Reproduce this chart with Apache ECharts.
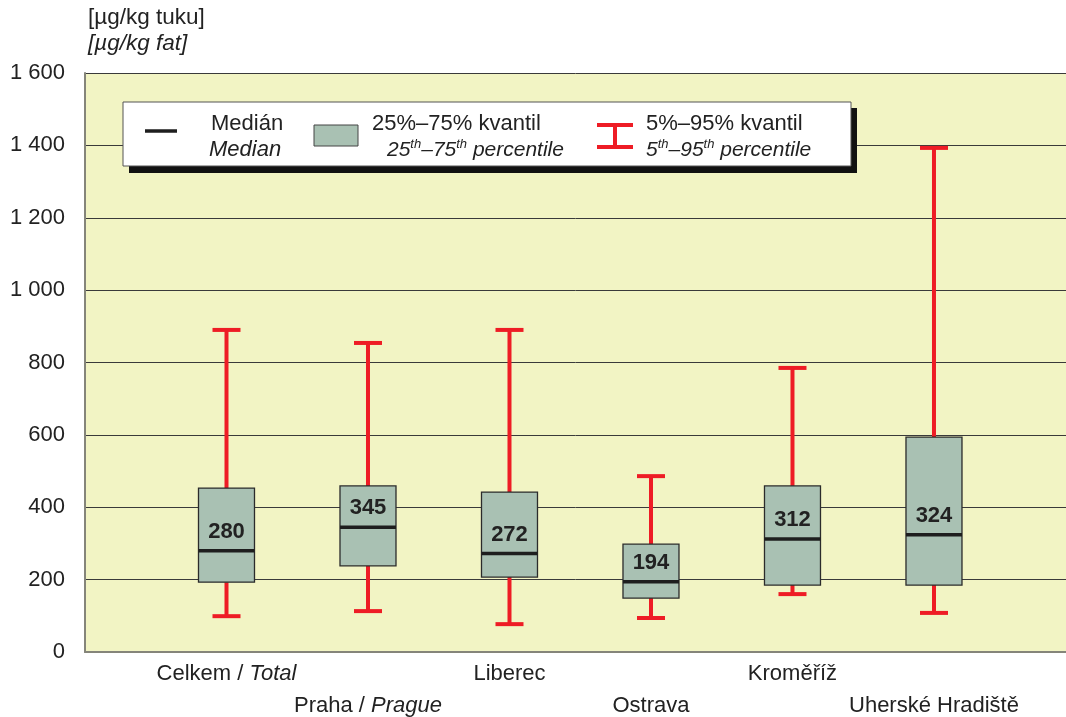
<!DOCTYPE html>
<html><head><meta charset="utf-8">
<script src="https://cdn.jsdelivr.net/npm/echarts@6/dist/echarts.min.js"></script>
<style>html,body{margin:0;padding:0;background:#fff}#c{width:1066px;height:717px}</style>
</head><body><div id="c"></div>
<script>
// ---- data ----
const categories = ['Celkem / Total', 'Praha / Prague', 'Liberec', 'Ostrava', 'Kroměříž', 'Uherské Hradiště'];
const italicPart = ['Total', 'Prague', '', '', '', ''];
const p5 = [99, 113, 77, 94, 160, 108];
const q1 = [193, 238, 207, 149, 185, 185];
const median = [280, 345, 272, 194, 312, 324];
const q3 = [453, 459, 442, 298, 459, 594];
const p95 = [890, 854, 890, 486, 785, 1393];
const yTicks = [0, 200, 400, 600, 800, 1000, 1200, 1400, 1600];

const FONT = '"Liberation Sans", Arial, sans-serif';
const FS = 22;
const RED = '#EE1C25';
const BOXFILL = '#A9C1B3';

const seriesData = categories.map((c, i) => [i + 1, p5[i], q1[i], median[i], q3[i], p95[i]]);

function renderItem(params, api) {
  const x = api.value(0);
  const pLow = api.coord([x, api.value(1)]);
  const pQ1 = api.coord([x, api.value(2)]);
  const pMed = api.coord([x, api.value(3)]);
  const pQ3 = api.coord([x, api.value(4)]);
  const pHigh = api.coord([x, api.value(5)]);
  const cx = pMed[0];
  const bw = 56, cw = 28;
  const redStyle = {stroke: RED, lineWidth: 4};
  return {
    type: 'group',
    children: [
      {type: 'line', shape: {x1: cx, y1: pQ3[1], x2: cx, y2: pHigh[1]}, style: redStyle},
      {type: 'line', shape: {x1: cx, y1: pQ1[1], x2: cx, y2: pLow[1]}, style: redStyle},
      {type: 'line', shape: {x1: cx - cw / 2, y1: pHigh[1], x2: cx + cw / 2, y2: pHigh[1]}, style: redStyle},
      {type: 'line', shape: {x1: cx - cw / 2, y1: pLow[1], x2: cx + cw / 2, y2: pLow[1]}, style: redStyle},
      {type: 'rect', shape: {x: cx - bw / 2, y: pQ3[1], width: bw, height: pQ1[1] - pQ3[1]},
        style: {fill: BOXFILL, stroke: '#2b2b2b', lineWidth: 1.3}},
      {type: 'line', shape: {x1: cx - bw / 2, y1: pMed[1], x2: cx + bw / 2, y2: pMed[1]},
        style: {stroke: '#1e1e1e', lineWidth: 3.5}},
      {type: 'text', style: {text: String(api.value(3)), x: cx, y: pMed[1] - 8,
        align: 'center', verticalAlign: 'bottom', fontFamily: FONT, fontWeight: 'bold',
        fontSize: 22, fill: '#222'}}
    ]
  };
}

const chart = echarts.init(document.getElementById('c'));
chart.setOption({
  animation: false,
  backgroundColor: '#ffffff',
  grid: {left: 85, right: 0, top: 73, bottom: 65, show: true, backgroundColor: '#F2F4C4', borderWidth: 0,
    containLabel: false, outerBoundsMode: 'none'},
  xAxis: {
    type: 'value', min: 0, max: 6.933, interval: 1,
    splitLine: {show: false},
    axisTick: {show: false},
    axisLine: {show: true, lineStyle: {color: '#85857a', width: 2}},
    axisLabel: {
      margin: 6, lineHeight: 32, fontFamily: FONT, fontSize: FS, color: '#222',
      showMaxLabel: false, showMinLabel: false,
      formatter: function (v) {
        const i = Math.round(v) - 1;
        if (Math.abs(v - Math.round(v)) > 1e-6 || i < 0 || i >= categories.length) return '';
        const it = italicPart[i];
        let s;
        if (it) {
          const base = categories[i].slice(0, categories[i].length - it.length);
          s = '{n|' + base + '}{i|' + it + '}';
        } else {
          s = '{n|' + categories[i] + '}';
        }
        return i % 2 === 1 ? '{e| }\n' + s : s;
      },
      rich: {
        n: {fontFamily: FONT, fontSize: FS, color: '#222', lineHeight: 32},
        i: {fontFamily: FONT, fontSize: FS, color: '#222', fontStyle: 'italic', lineHeight: 32},
        e: {fontSize: 10, lineHeight: 32}
      }
    }
  },
  yAxis: {
    type: 'value', min: 0, max: 1600, interval: 200,
    name: '{a|[µg/kg tuku]}\n{b|[µg/kg fat]}',
    nameLocation: 'end', nameGap: 16,
    nameTextStyle: {align: 'left', verticalAlign: 'bottom', padding: [0, 0, 0, 3],
      rich: {
        a: {fontFamily: FONT, fontSize: 22.5, color: '#222', lineHeight: 26},
        b: {fontFamily: FONT, fontSize: 22.5, color: '#222', fontStyle: 'italic', lineHeight: 26}
      }},
    axisLine: {show: true, lineStyle: {color: '#85857a', width: 2}},
    axisTick: {show: false},
    splitLine: {show: true, lineStyle: {color: '#3a3a3a', width: 1}},
    axisLabel: {margin: 20, fontFamily: FONT, fontSize: FS, color: '#222',
      formatter: v => String(v).replace(/\B(?=(\d{3})+(?!\d))/g, ' ')}
  },
  series: [{
    type: 'custom', renderItem: renderItem, data: seriesData,
    encode: {x: 0, y: [1, 2, 3, 4, 5]}, z: 5, clip: false
  }],
  graphic: [
    {type: 'rect', shape: {x: 129, y: 108, width: 728, height: 65}, style: {fill: '#111'}, z: 100},
    {type: 'rect', shape: {x: 123, y: 102, width: 728, height: 64}, style: {fill: '#fff', stroke: '#555', lineWidth: 1}, z: 101},
    {type: 'line', shape: {x1: 145, y1: 131, x2: 177, y2: 131}, style: {stroke: '#1e1e1e', lineWidth: 3.5}, z: 102},
    {type: 'text', z: 102, style: {x: 211, y: 124, text: 'Medián', fontFamily: FONT, fontSize: FS, fill: '#222', verticalAlign: 'middle'}},
    {type: 'text', z: 102, style: {x: 209, y: 150, text: 'Median', fontFamily: FONT, fontSize: FS, fontStyle: 'italic', fill: '#222', verticalAlign: 'middle'}},
    {type: 'rect', z: 102, shape: {x: 314, y: 125, width: 44, height: 21}, style: {fill: BOXFILL, stroke: '#444', lineWidth: 1}},
    {type: 'text', z: 102, style: {x: 372, y: 124, text: '25%–75% kvantil', fontFamily: FONT, fontSize: FS, fill: '#222', verticalAlign: 'middle'}},
    {type: 'text', z: 102, style: {x: 387, y: 150, verticalAlign: 'middle',
      text: '{m|25}{s|th}{m|–75}{s|th}{m| percentile}',
      rich: {m: {fontFamily: FONT, fontSize: 21, fontStyle: 'italic', fill: '#222', lineHeight: 24},
             s: {fontFamily: FONT, fontSize: 13, fontStyle: 'italic', fill: '#222', verticalAlign: 'top', lineHeight: 24}}}},
    {type: 'line', z: 102, shape: {x1: 597, y1: 125, x2: 633, y2: 125}, style: {stroke: RED, lineWidth: 4}},
    {type: 'line', z: 102, shape: {x1: 597, y1: 147, x2: 633, y2: 147}, style: {stroke: RED, lineWidth: 4}},
    {type: 'line', z: 102, shape: {x1: 615, y1: 125, x2: 615, y2: 147}, style: {stroke: RED, lineWidth: 4}},
    {type: 'text', z: 102, style: {x: 646, y: 124, text: '5%–95% kvantil', fontFamily: FONT, fontSize: FS, fill: '#222', verticalAlign: 'middle'}},
    {type: 'text', z: 102, style: {x: 646, y: 150, verticalAlign: 'middle',
      text: '{m|5}{s|th}{m|–95}{s|th}{m| percentile}',
      rich: {m: {fontFamily: FONT, fontSize: 21, fontStyle: 'italic', fill: '#222', lineHeight: 24},
             s: {fontFamily: FONT, fontSize: 13, fontStyle: 'italic', fill: '#222', verticalAlign: 'top', lineHeight: 24}}}}
  ]
});
</script>
</body></html>
